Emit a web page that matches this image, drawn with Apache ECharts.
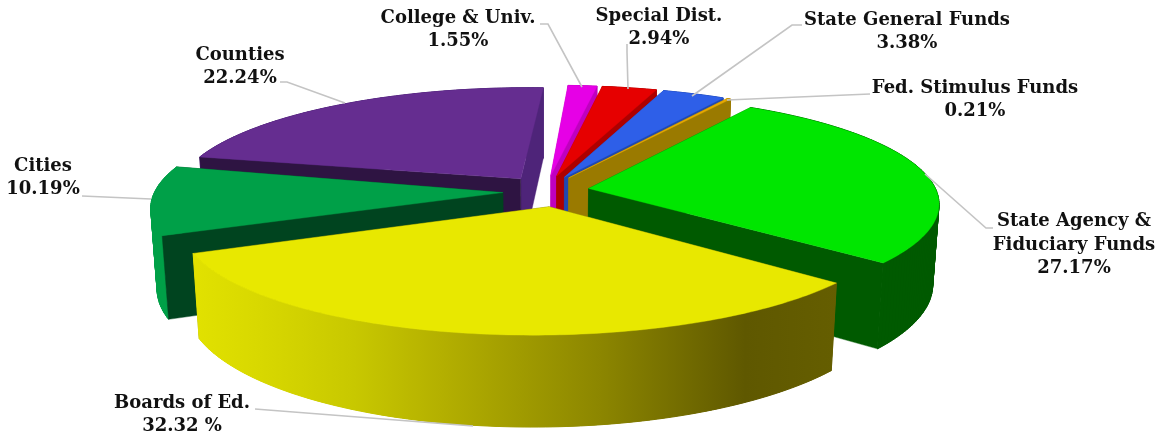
<!DOCTYPE html>
<html><head><meta charset="utf-8">
<script src="https://cdn.jsdelivr.net/npm/echarts@6/dist/echarts.min.js"></script>
<style>html,body{margin:0;padding:0;background:#fff}#c{width:1163px;height:438px}</style>
</head><body><div id="c"></div>
<script>
// ---- data (clockwise from the top of the pie) ----
const categories = ["College & Univ.","Special Dist.","State General Funds","Fed. Stimulus Funds","State Agency &\nFiduciary Funds","Boards of Ed.","Cities","Counties"];
const shares = [1.55,2.94,3.38,0.21,27.17,32.32,10.19,22.24];
const shareLabels = ["1.55%","2.94%","3.38%","0.21%","27.17%","32.32 %","10.19%","22.24%"];

// ---- style ----
const topColors  = ["#e600e6","#e60000","#2e5fe8","#e6a800","#00e600","#e8e800","#00a048","#652d90"];
const wallColors = ["#bf00bf","#ad0000","#2048b0","#9a7a00","#005a00","#605800","#00441f","#2e1442"];
const endWallColors = ["#bf00bf","#ad0000","#2048b0","#9a7a00","#005a00","#605800","#00441f","#4e2479"];
const yellowStops = [[0,"#e2e200"],[0.108,"#d8d800"],[0.253,"#c8c800"],[0.386,"#b4b000"],[0.633,"#8c8600"],[0.857,"#5f5800"],[1,"#655e00"]];
const sideColors = ["#bf00bf","#ad0000","#2048b0","#9a7a00","#005a00",null,"#00a048","#4e2479"];
const paintOrder = [7,0,1,2,3,6,4,5];
const apexShift = [0,0,0,0,0,0.027,0,-0.005];
const arcShift  = [0,0,0,0,0,0,0,0.005];
const arcLift   = [0,0,0,0,0,0.015,0.03,0];

// ---- projection ----
const P = {cx:546, cy:191, R:348, Ry:107.3, D:81, k:0.1416, m:0.016, sh:5, ex:0.124, ey:0.145, a0:2.6};
function project(u,v,z){
  const s = 1/(1 - P.k*v + P.m*z);
  return [P.cx + (P.R*u - P.sh*v)*s, P.cy + (P.Ry*v + P.D*z)*s];
}
const total = shares.reduce((a,b)=>a+b,0);
const rad = d=>d*Math.PI/180;
function sliceAngles(i){
  let a = P.a0;
  for(let j=0;j<i;j++) a += shares[j]/total*360;
  return [a, a + shares[i]/total*360];
}
function renderSlice(params, api){
  const i = api.value(0);
  const [a,b] = sliceAngles(i);
  const mid = (a+b)/2;
  const ou = P.ex*Math.sin(rad(mid))+arcShift[i], ov = -P.ey*Math.cos(rad(mid));
  const pt = (deg,z)=>project(ou+Math.sin(rad(deg)), ov-arcLift[i]-Math.cos(rad(deg)), z);
  const apex = z=>project(ou+apexShift[i],ov,z);
  const n = Math.max(2, Math.ceil(b-a));
  const arcTop=[], arcBot=[];
  for(let t=0;t<=n;t++){
    const d = a+(b-a)*t/n;
    arcTop.push(pt(d,0)); arcBot.push(pt(d,1));
  }
  const poly=(pts,fill)=>({type:'polygon',shape:{points:pts},style:{fill:fill,stroke:fill,lineWidth:0.4}});
  const sideFill = sideColors[i] || new echarts.graphic.LinearGradient(190,0,838,0,
      yellowStops.map(s=>({offset:s[0],color:s[1]})), true);
  // the band as one shape, then quads to fill where the two arcs cross at the silhouette
  const side=[{type:'polygon',shape:{points:arcTop.concat(arcBot.slice().reverse())},style:{fill:sideFill}}];
  for(let t=0;t<n;t++){
    side.push({type:'polygon',shape:{points:[arcTop[t],arcTop[t+1],arcBot[t+1],arcBot[t]]},
      style:{fill:sideFill,stroke:sideFill,lineWidth:1}});
  }
  // a radial wall faces the viewer when the slice's top face lies above its upper edge
  const a0p=apex(0), mp=pt(mid,0);
  const faces = q=>{
    const dx=q[0]-a0p[0];
    if(Math.abs(dx)<1e-6) return true;
    return mp[1] < a0p[1]+(q[1]-a0p[1])*(mp[0]-a0p[0])/dx;
  };
  const wallA = {vis:faces(pt(a,0)), el:poly([apex(0),pt(a,0),pt(a,1),apex(1)], wallColors[i])};
  const wallB = {vis:faces(pt(b,0)), el:poly([apex(0),pt(b,0),pt(b,1),apex(1)], endWallColors[i])};
  const back = [wallA,wallB].filter(w=>!w.vis).map(w=>w.el);
  const frontW = [wallB,wallA].filter(w=>w.vis).map(w=>w.el);
  const top = poly([apex(0)].concat(arcTop), topColors[i]);
  return {type:'group',children:back.concat(side,frontW,[top])};
}

// ---- label placement ----
const labelAnchor = [[458,30],[659,28],[907,32],[975,100],[1074,245],[182,415],[43,178],[240,67]];
const leaderPaths = [
  [[540,24],[548,24],[582,87]],
  [[627,44],[627,52],[628,89]],
  [[802,25],[792,25],[692,96]],
  [[870,94],[727,100]],
  [[993,228],[986,228],[925,174]],
  [[255,409],[473,426]],
  [[82,196],[151,199]],
  [[280,82],[287,82],[345,103]]
];
function renderLabel(params, api){
  const i = api.value(0);
  return {type:'group',children:[
    {type:'polyline',shape:{points:leaderPaths[i]},style:{fill:'none',stroke:'#c4c4c4',lineWidth:1.6}},
    {type:'text',style:{x:labelAnchor[i][0],y:labelAnchor[i][1],text:categories[i]+"\n"+shareLabels[i],
      fill:'#111',font:'bold 18px "DejaVu Serif"',align:'center',verticalAlign:'middle',lineHeight:23.5}}
  ]};
}
const chart = echarts.init(document.getElementById('c'),null,{renderer:'canvas'});
chart.setOption({
  animation:false,
  backgroundColor:'#fff',
  series:[
    {type:'custom',coordinateSystem:'none',silent:true,renderItem:renderSlice,
     data:paintOrder.map(i=>[i,shares[i]]),z:1},
    {type:'custom',coordinateSystem:'none',silent:true,renderItem:renderLabel,
     data:shares.map((v,i)=>[i,v]),z:2}
  ]
});
</script></body></html>
